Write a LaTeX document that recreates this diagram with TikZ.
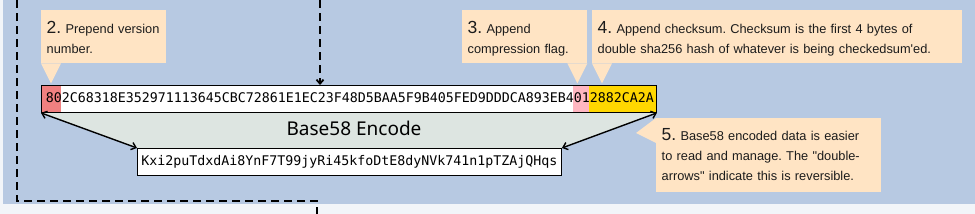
\documentclass[tikz,border=0pt]{standalone}
\usepackage{fontspec}
\setmainfont[Ligatures=TeXOff]{Liberation Sans}
\newfontfamily\hexfont{DejaVu Sans Mono}
\newfontfamily\encfont{Noto Sans}
\usetikzlibrary{arrows.meta,backgrounds}
\definecolor{bgblue}{HTML}{B7C9E2}
\definecolor{peach}{HTML}{FFE4C4}
\definecolor{trap}{HTML}{DDE5E1}
\definecolor{outerbg}{HTML}{F2F5F9}
\definecolor{verred}{HTML}{F08080}
\definecolor{flagpink}{HTML}{FFB6C1}
\definecolor{chkgold}{HTML}{FFD700}
\definecolor{txt}{HTML}{1C1C1C}
\tikzset{
  callout/.style={fill=peach, anchor=north west, inner xsep=5.5pt, inner ysep=0pt,
    align=left, text=txt, font=\fontsize{12.8}{20}\selectfont\frenchspacing},
  ptr/.style={fill=peach},
  databox/.style={draw=black, line width=0.9pt, fill=white, anchor=north west,
    inner sep=0pt, minimum height=27pt},
  hextext/.style={font=\hexfont\fontsize{13.29}{15}\selectfont, text=black, inner sep=0pt},
  dashline/.style={draw=black, line width=1.8pt, dash pattern=on 8pt off 5pt},
  dblarrow/.style={draw=black, line width=1.4pt, {Straight Barb[length=4.5pt,width=7.5pt]}-{Straight Barb[length=4.5pt,width=7.5pt]}}
}
\newcommand{\bnum}[1]{{\fontsize{17.5}{20}\selectfont #1}}
\begin{document}
\begin{tikzpicture}[x=1pt,y=-1pt]
\useasboundingbox (0,0) rectangle (975,214);

% data boxes
\node[databox, minimum width=615pt] (hex) at (41,85) {};
\node[databox, minimum width=424pt] (res) at (137,148) {};

% coloured segments of the payload
\fill[verred] ([shift={(0.45,-0.45)}]hex.north west) rectangle ([shift={(20,0.45)}]hex.south west);
\fill[flagpink] ([shift={(532,-0.45)}]hex.north west) rectangle ([shift={(548,0.45)}]hex.south west);
\fill[chkgold] ([shift={(548,-0.45)}]hex.north west) rectangle ([shift={(-0.45,0.45)}]hex.south east);
\draw[line width=0.9pt] (hex.north west) rectangle (hex.south east);

\node[hextext, anchor=base west] (hexstr) at ([shift={(4.7,17.5)}]hex.north west)
  {802C68318E352971113645CBC72861E1EC23F48D5BAA5F9B405FED9DDDCA893EB4012882CA2A};
\node[hextext] (resstr) at (res.center) {Kxi2puTdxdAi8YnF7T99jyRi45kfoDtE8dyNVk741n1pTZAjQHqs};

\node[font=\encfont\fontsize{19}{22}\selectfont, text=black] (enc) at (354,128.5) {Base58 Encode};

\begin{scope}[on background layer]
  \fill[outerbg] (0,0) rectangle (975,214);
  \fill[bgblue] (3,0) rectangle (975,204);
  \fill[trap] (hex.south west) -- (hex.south east) -- (res.north east) -- (res.north west) -- cycle;
\end{scope}

% double arrows
\draw[dblarrow] (hex.south west) -- (res.north west);
\draw[dblarrow] (hex.south east) -- (res.north east);

% dashed lines
\coordinate (topin) at (320,0);
\draw[dashline, -{Straight Barb[length=4pt,width=7pt]}] (topin) -- (topin |- hex.north);
\coordinate (l0) at (17,0);
\coordinate (l1) at (17,201);
\coordinate (l2) at (317,201);
\coordinate (l3) at (317,214);
\draw[dashline] (l0) -- (l1) -- (l2) -- (l3);

% callouts
\node[callout, text width=114pt, minimum width=125pt, text height=23pt, text depth=30pt] (c2) at (41,10)
  {\bnum{2.} Prepend version\\number.};
\fill[ptr] (c2.south west) -- ++(20,0) -- ++(-10,20) -- cycle;

\node[callout, text width=114pt, minimum width=125pt, text height=23pt, text depth=30pt] (c3) at (462,10)
  {\bnum{3.} Append\\compression flag.};
\fill[ptr] (c3.south east) -- ++(-20,0) -- ++(10,20) -- cycle;

\node[callout, text width=359pt, minimum width=370pt, text height=23pt, text depth=30pt] (c4) at (592,10)
  {\bnum{4.} Append checksum. Checksum is the first 4 bytes of\\double sha256 hash of whatever is being checkedsum'ed.};
\fill[ptr] (c4.south west) -- ++(20,0) -- ++(-10,20) -- cycle;

\node[callout, text width=214pt, minimum width=225pt, text height=22.7pt, text depth=51.3pt] (c5) at (656,118)
  {\bnum{5.} Base58 encoded data is easier\\to read and manage. The "double-\\arrows" indicate this is reversible.};
\fill[ptr] (c5.north west) -- ++(0,25) -- ++(-20,-10) -- cycle;
\end{tikzpicture}
\end{document}
